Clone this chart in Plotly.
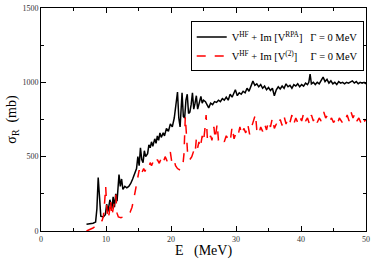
import plotly.graph_objects as go

E_rpa = [7.0, 7.5, 8.0, 8.4, 8.6, 8.8, 9.0, 9.2, 9.6, 9.9, 10.1, 10.3, 10.6, 10.9, 11.1, 11.3, 11.5, 11.7,
         12.0, 12.2, 12.4, 12.6, 12.9, 13.2, 13.5, 13.8, 14.1, 14.4, 14.7, 14.9, 15.1, 15.3, 15.5, 15.7,
         15.9, 16.1, 16.4, 16.6, 16.8, 17.0, 17.2, 17.5, 17.7, 17.9, 18.1, 18.3, 18.5, 18.8, 19.0, 19.3,
         19.6, 19.9, 20.2, 20.5, 20.7, 21.0, 21.2, 21.4, 21.7, 21.9, 22.1, 22.3, 22.5, 22.7, 22.9, 23.1,
         23.3, 23.5, 23.7, 23.9, 24.1, 24.3, 24.6, 24.8, 25.0, 25.3, 25.6, 25.8, 26.1, 26.4, 26.7, 27.0,
         27.3, 27.6, 27.9, 28.2, 28.5, 28.8, 29.1, 29.4, 29.7, 29.9, 30.2, 30.5, 30.8, 31.1, 31.4, 31.7,
         32.0, 32.3, 32.6, 32.9, 33.2, 33.5, 33.8, 34.1, 34.4, 34.7, 35.0, 35.3, 35.6, 35.9, 36.2, 36.5,
         36.8, 37.1, 37.4, 37.7, 38.0, 38.3, 38.6, 38.9, 39.2, 39.5, 39.8, 40.1, 40.4, 40.7, 41.0, 41.2,
         41.4, 41.6, 41.9, 42.2, 42.5, 42.8, 43.1, 43.4, 43.7, 44.0, 44.3, 44.6, 44.9, 45.2, 45.5, 45.8,
         46.1, 46.4, 46.7, 47.0, 47.3, 47.6, 47.9, 48.2, 48.5, 48.8, 49.1, 49.4, 49.7, 50.0]
sigma_rpa = [45, 48, 52, 60, 150, 360, 180, 100, 95, 110, 180, 130, 210, 150, 230, 160, 250, 200,
             380, 300, 350, 280, 300, 290, 300, 320, 350, 380, 420, 500, 440, 560, 480, 460,
             540, 500, 520, 580, 560, 600, 570, 620, 590, 640, 610, 660, 630, 660, 640, 690,
             670, 720, 700, 760, 820, 935, 760, 700, 930, 770, 760, 880, 920, 790, 800, 850,
             930, 820, 860, 910, 820, 860, 905, 860, 880, 870, 840, 828, 860, 850, 870, 865,
             880, 870, 890, 880, 900, 880, 920, 900, 930, 950, 910, 930, 920, 940, 930, 960,
             940, 980, 1008, 980, 990, 970, 985, 960, 975, 950, 965, 945, 960, 910, 950, 970,
             955, 975, 960, 990, 970, 980, 960, 985, 975, 990, 970, 985, 975, 995, 985, 1000,
             1056, 990, 1000, 985, 1000, 990, 1010, 1035, 1005, 1020, 995, 1010, 990, 1000, 985, 1005,
             995, 1000, 990, 1000, 995, 1005, 1010, 995, 1005, 990, 1000, 995, 1000, 990]

E_v2 = [7.0, 7.5, 8.0, 8.5, 9.0, 9.4, 9.6, 9.8, 9.95, 10.1, 10.3, 10.5, 10.7, 10.9, 11.1, 11.3, 11.5,
        11.7, 11.9, 12.3, 12.8, 13.3, 13.7, 14.0, 14.3, 14.6, 14.9, 15.1, 15.3, 15.5, 15.8, 16.0, 16.3,
        16.6, 16.8, 17.0, 17.3, 17.6, 17.9, 18.2, 18.5, 18.8, 19.1, 19.4, 19.7, 19.9, 20.1, 20.4, 20.7,
        21.0, 21.4, 21.8, 22.0, 22.2, 22.4, 22.6, 22.9, 23.2, 23.5, 23.7, 23.9, 24.1, 24.3, 24.5, 24.8,
        25.0, 25.2, 25.4, 25.6, 25.8, 26.1, 26.3, 26.6, 26.8, 27.1, 27.3, 27.6, 27.9, 28.2, 28.5, 28.8,
        29.1, 29.4, 29.7, 30.0, 30.3, 30.6, 30.9, 31.2, 31.5, 31.8, 32.1, 32.4, 32.7, 33.0, 33.2, 33.5,
        33.8, 34.1, 34.4, 34.7, 35.0, 35.3, 35.6, 35.9, 36.2, 36.5, 36.8, 37.1, 37.4, 37.7, 38.0, 38.3,
        38.6, 38.9, 39.2, 39.5, 39.8, 40.1, 40.4, 40.7, 41.0, 41.3, 41.6, 41.9, 42.2, 42.5, 42.8, 43.1,
        43.5, 43.8, 44.1, 44.4, 44.7, 45.0, 45.3, 45.6, 45.9, 46.2, 46.5, 46.8, 47.1, 47.4, 47.7, 48.0,
        48.3, 48.6, 48.9, 49.2, 49.5, 49.8, 50.0]
sigma_v2 = [0, 8, 20, 35, 50, 70, 100, 200, 300, 170, 80, 120, 210, 100, 150, 180, 245,
            120, 95, 90, 95, 105, 125, 160, 220, 300, 380, 410, 370, 390, 420, 400, 440,
            430, 460, 440, 470, 450, 480, 455, 490, 460, 500, 470, 520, 530, 470, 490, 440,
            420, 410, 430, 520, 770, 600, 490, 480, 500, 540, 520, 620, 560, 600, 560, 640,
            600, 680, 780, 620, 600, 640, 610, 700, 620, 720, 610, 600, 620, 600, 640, 620,
            600, 700, 620, 660, 640, 700, 650, 690, 660, 720, 650, 700, 740, 785, 680, 650,
            700, 670, 720, 680, 740, 700, 760, 690, 720, 700, 750, 710, 770, 720, 760, 730,
            780, 720, 760, 730, 770, 740, 790, 740, 760, 720, 780, 740, 770, 730, 760, 740,
            800, 760, 780, 740, 760, 730, 750, 720, 760, 740, 720, 740, 780, 740, 800, 760,
            790, 740, 760, 730, 770, 740, 750]

x_ticks = [0, 10, 20, 30, 40, 50]
y_ticks = [0, 500, 1000, 1500]

label_rpa = "V<sup>HF</sup> + Im [V<sup>RPA</sup>]   Γ = 0 MeV"
label_v2 = "V<sup>HF</sup> + Im [V<sup>(2)</sup>]     Γ = 0 MeV"

fig = go.Figure()
fig.add_trace(go.Scatter(x=E_rpa, y=sigma_rpa, mode="lines", name=label_rpa,
                         line=dict(color="black", width=1.5)))
fig.add_trace(go.Scatter(x=E_v2, y=sigma_v2, mode="lines", name=label_v2,
                         line=dict(color="red", width=1.5, dash="dash")))

font_family = "Liberation Serif, Times New Roman, serif"
axis_common = dict(showline=True, linecolor="black", linewidth=1, mirror="allticks",
                   ticks="inside", ticklen=5, tickcolor="black", showgrid=False, zeroline=False,
                   tickfont=dict(family=font_family, size=8, color="#333333"))

fig.update_layout(
    width=374, height=259,
    margin=dict(l=41, r=6, t=4, b=26),
    paper_bgcolor="white", plot_bgcolor="white",
    font=dict(family=font_family, color="black"),
    showlegend=True,
    legend=dict(x=0.993, y=0.94, xanchor="right", yanchor="top",
                bordercolor="black", borderwidth=1, bgcolor="white",
                font=dict(family=font_family, size=10.5, color="black"),
                tracegroupgap=0, itemwidth=30),
)
fig.update_xaxes(range=[0, 50], tickvals=x_ticks, ticktext=[str(v) for v in x_ticks],
                 minor=dict(ticks="inside", ticklen=3, dtick=5, tickcolor="black"),
                 title=dict(text="E   (MeV)", font=dict(family=font_family, size=14), standoff=2),
                 **axis_common)
fig.update_yaxes(range=[0, 1500], tickvals=y_ticks, ticktext=[str(v) for v in y_ticks],
                 minor=dict(ticks="inside", ticklen=3, dtick=250, tickcolor="black"),
                 title=dict(text="σ<sub>R</sub>  (mb)", font=dict(family=font_family, size=14), standoff=2),
                 **axis_common)

fig.write_html("out.html", config={"displayModeBar": False},
               post_script="document.body.style.margin='0';")
